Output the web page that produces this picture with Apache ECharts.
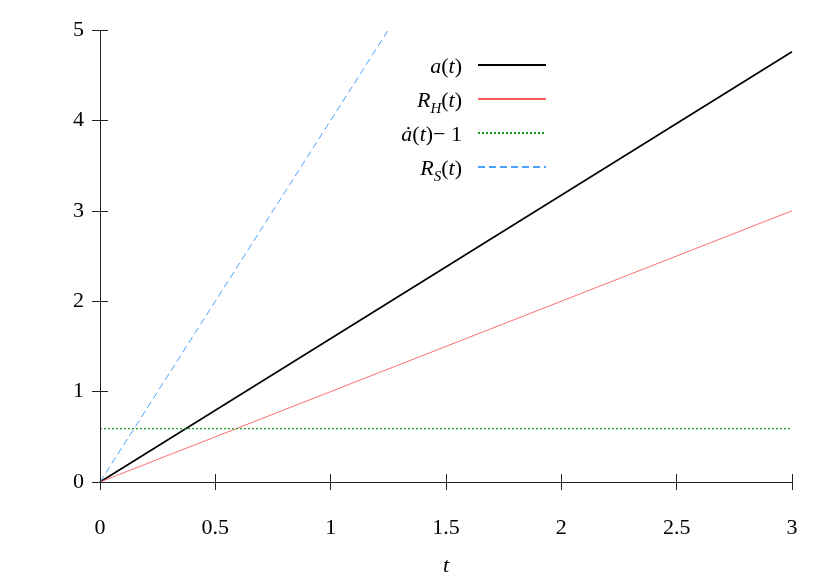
<!DOCTYPE html>
<html><head><meta charset="utf-8">
<script src="https://cdn.jsdelivr.net/npm/echarts@6/dist/echarts.min.js"></script>
<style>html,body{margin:0;padding:0;background:#fff}#c{width:830px;height:581px}</style>
</head><body><div id="c"></div>
<script>
var xTicks = [0, 0.5, 1, 1.5, 2, 2.5, 3];
var yTicks = [0, 1, 2, 3, 4, 5];
var seriesNames = ['a(t)', 'R_H(t)', 'adot(t)-1', 'R_S(t)'];
var aData = [[0, 0], [3, 4.76]];
var rhData = [[0, 0], [3, 3]];
var adotData = [[0, 0.59], [3, 0.59]];
var rsData = [[0, 0], [1.25, 5]];

var font = 'Liberation Serif, Times New Roman, serif';
var axisColor = '#222';
var legendLabels = {
  'a(t)': '{i|a}{n|(}{i|t}{n|)}',
  'R_H(t)': '{i|R}{sub|H}{n|(}{i|t}{n|)}',
  'adot(t)-1': '{i|ȧ}{n|(}{i|t}{n|)− 1}',
  'R_S(t)': '{i|R}{sub|S}{n|(}{i|t}{n|)}'
};
var mainTok = {fontSize: 22, fontFamily: font, color: '#000', verticalAlign: 'top', lineHeight: 24, padding: [3, 0, 6, 0]};
var chart = echarts.init(document.getElementById('c'));
chart.setOption({
  animation: false,
  backgroundColor: '#fff',
  grid: {left: 100, right: 38, top: 30, bottom: 99, containLabel: false, outerBoundsMode: 'none'},
  xAxis: {
    type: 'value', min: xTicks[0], max: xTicks[xTicks.length - 1], interval: 0.5,
    position: 'bottom', offset: -8, splitLine: {show: false},
    axisLine: {show: false, onZero: false},
    axisTick: {show: true, inside: false, length: 16, lineStyle: {color: axisColor}},
    axisLabel: {margin: 43, color: '#000', fontSize: 22, fontFamily: font},
    name: 't', nameLocation: 'middle', nameGap: 81,
    nameTextStyle: {fontSize: 22, fontStyle: 'italic', fontFamily: font, color: '#000'}
  },
  yAxis: {
    type: 'value', min: yTicks[0], max: yTicks[yTicks.length - 1], interval: 1,
    position: 'left', offset: -8, splitLine: {show: false},
    axisLine: {show: false, onZero: false},
    axisTick: {show: true, inside: false, length: 16, lineStyle: {color: axisColor}},
    axisLabel: {margin: 24, color: '#000', fontSize: 22, fontFamily: font}
  },
  legend: {
    orient: 'vertical', align: 'right', right: 278, top: 48,
    itemWidth: 68, itemHeight: 14, itemGap: 3,
    data: seriesNames,
    itemStyle: {opacity: 0},
    formatter: function (n) { return legendLabels[n]; },
    textStyle: {
      fontSize: 22, fontFamily: font, color: '#000', width: 100, align: 'right', padding: [0, 11, 0, 0],
      rich: {
        i: Object.assign({}, mainTok, {fontStyle: 'italic'}),
        n: Object.assign({}, mainTok),
        sub: {fontSize: 15, fontStyle: 'italic', fontFamily: font, color: '#000', verticalAlign: 'top', lineHeight: 17, padding: [15, 0, 0, 0]}
      }
    }
  },
  series: [
    {name: seriesNames[0], type: 'line', data: aData, symbol: 'none', z: 3, lineStyle: {color: '#000', width: 1.6}, itemStyle: {color: '#000'},
      markLine: {silent: true, symbol: 'none', label: {show: false}, animation: false,
        lineStyle: {color: axisColor, width: 1, type: 'solid'},
        data: [{yAxis: yTicks[0]}, {xAxis: xTicks[0]}]}},
    {name: seriesNames[1], type: 'line', data: rhData, symbol: 'none', lineStyle: {color: '#ff5c5c', width: 0.9}, itemStyle: {color: '#ff5c5c'}},
    {name: seriesNames[2], type: 'line', data: adotData, symbol: 'none', lineStyle: {color: '#1a9a1a', width: 1.2, type: [2, 2]}, itemStyle: {color: '#1a9a1a'}},
    {name: seriesNames[3], type: 'line', data: rsData, symbol: 'none', lineStyle: {color: '#4aa3ff', width: 1, type: [7, 4]}, itemStyle: {color: '#4aa3ff'}}
  ]
});
</script></body></html>
